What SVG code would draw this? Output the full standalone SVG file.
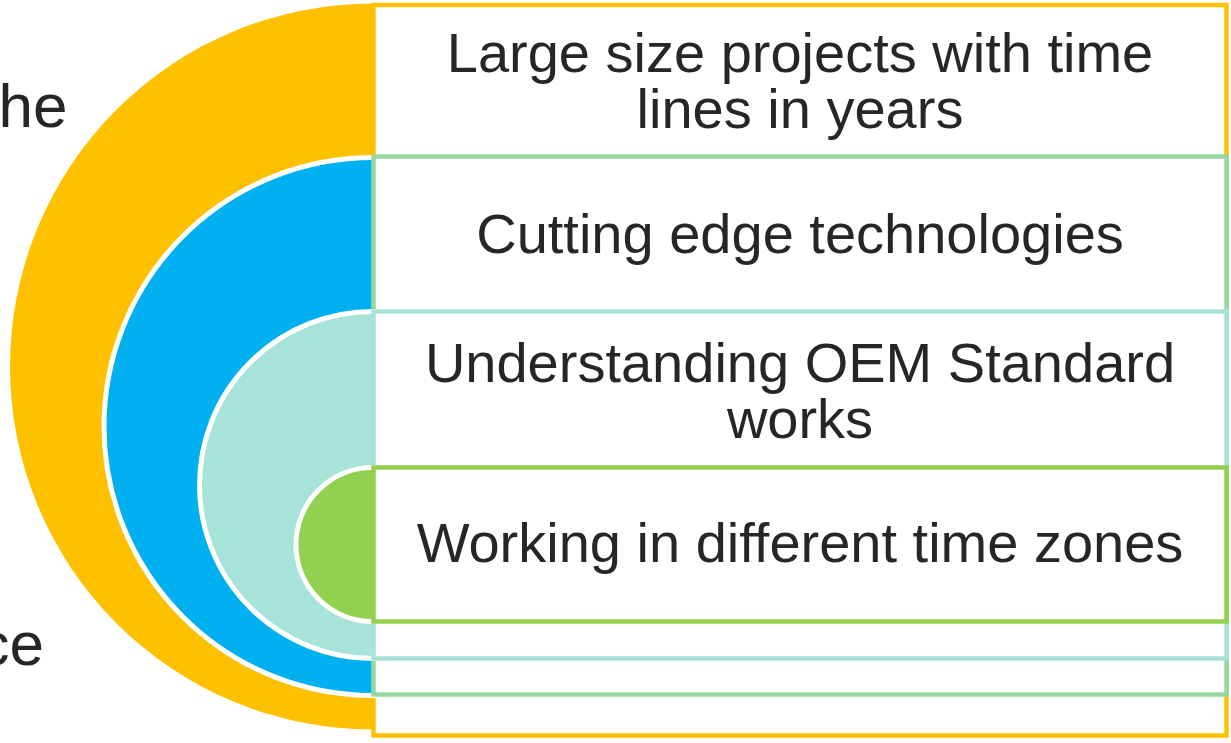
<svg xmlns="http://www.w3.org/2000/svg" width="1231" height="743" viewBox="0 0 1231 743">
  <style>
    .ring { stroke: #FFFFFF; stroke-width: 5; }
    .box { fill: #FFFFFF; stroke-width: 4.5; }
    .label { font-family: "Liberation Sans", Arial, sans-serif; font-size: 56px; fill: #262626; text-anchor: middle; }
    .side { font-family: "Liberation Sans", Arial, sans-serif; font-size: 62px; fill: #262626; text-anchor: end; }
  </style>
  <rect x="0" y="0" width="1231" height="743" fill="#FFFFFF"/>
  <g id="side-text">
    <text class="side" x="67.5" y="127">he</text>
    <text class="side" x="44" y="665">ce</text>
  </g>
  <g id="node-1">
    <circle cx="373" cy="366.5" r="363" fill="#FFC000"/>
    <rect class="box" x="373.5" y="5" width="853" height="730.5" stroke="#FFC000"/>
    <text class="label" x="800" y="72">Large size projects with time<tspan x="800" dy="56">lines in years</tspan></text>
  </g>
  <g id="node-2">
    <circle class="ring" cx="373" cy="426.5" r="269" fill="#00B0F0"/>
    <rect class="box" x="373.5" y="156.5" width="853" height="538" stroke="#98D6A0"/>
    <text class="label" x="800" y="253">Cutting edge technologies</text>
  </g>
  <g id="node-3">
    <circle class="ring" cx="373" cy="485" r="173.5" fill="#A7E3D8"/>
    <rect class="box" x="373.5" y="311.5" width="853" height="347" stroke="#A7E3D8"/>
    <text class="label" x="800" y="382">Understanding OEM Standard<tspan x="800" dy="56">works</tspan></text>
  </g>
  <g id="node-4">
    <circle class="ring" cx="373" cy="544.5" r="77" fill="#92D050"/>
    <rect class="box" x="373.5" y="467.5" width="853" height="154" stroke="#92D050"/>
    <text class="label" x="800" y="562">Working in different time zones</text>
  </g>
  <g id="connectors"/>
</svg>
